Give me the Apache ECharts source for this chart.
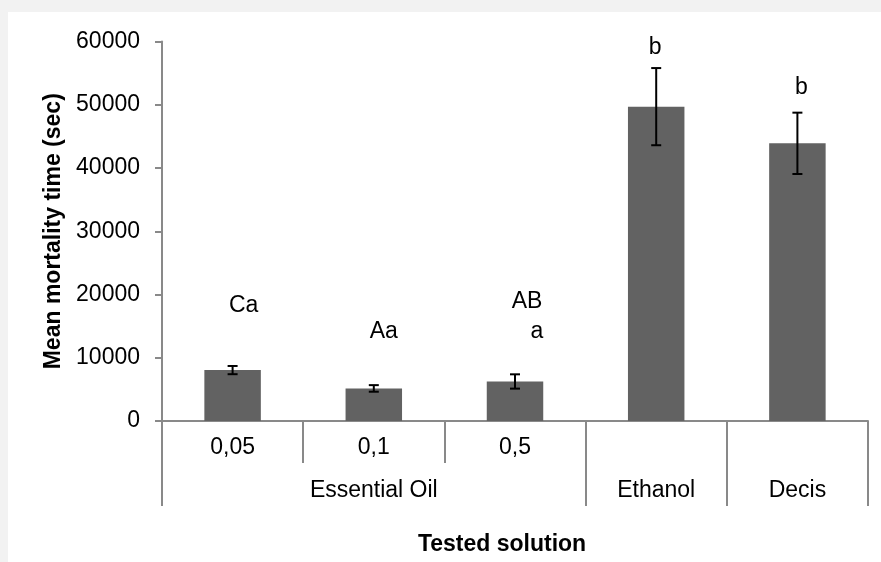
<!DOCTYPE html>
<html>
<head>
<meta charset="utf-8">
<script src="https://cdn.jsdelivr.net/npm/echarts@6/dist/echarts.min.js"></script>
<style>
  html, body { margin: 0; padding: 0; background: #f2f2f2; }
  #chart { position: absolute; left: 8px; top: 12px; width: 873px; height: 550px; background: #fff; }
</style>
</head>
<body>
<div id="chart"></div>
<script>
// first level of the x axis (concentration), second level (solution group)
const concentrations = ['0,05', '0,1', '0,5', '', ''];
const groups = ['Essential Oil', 'Ethanol', 'Decis'];
const groupSpans = [3, 1, 1];

// mean mortality time (sec) and error bar half-length
const meanTime = [8050, 5150, 6250, 49700, 43900];
const stdError = [650, 520, 1130, 6100, 4850];

// significance letters: text, bar they belong to, height (sec)
const letterText = ['Ca', 'Aa', 'AB', 'a', 'b', 'b'];
const letterBar = [0, 1, 2, 2, 3, 4];
const letterLevel = [18300, 14200, 18900, 14050, 59100, 52700];

const yTicks = [0, 10000, 20000, 30000, 40000, 50000, 60000];

const FONT = "'Liberation Sans', Arial, sans-serif";
const FS = 23;
const AXIS_GREY = '#898989';

// group edges / centres on a 0..n scale
const groupEdges = [0];
const groupCenters = [];
let acc = 0;
groupSpans.forEach(s => {
  groupCenters.push(acc + s / 2);
  acc += s;
  groupEdges.push(acc);
});

// small horizontal nudges for the letters, as in the original
const letterDx = [11, 10, 12, 22, -1, 4];

const chart = echarts.init(document.getElementById('chart'));

const option = {
  animation: false,
  backgroundColor: '#fff',
  textStyle: { fontFamily: FONT },
  grid: { left: 154, right: 13, top: 29.5, bottom: 141, containLabel: false },
  xAxis: [
    {
      type: 'category',
      data: concentrations,
      position: 'bottom',
      axisLine: { lineStyle: { color: AXIS_GREY, width: 2 } },
      axisTick: { show: true, interval: 0, length: 42, alignWithLabel: false, lineStyle: { color: AXIS_GREY, width: 2 } },
      axisLabel: { interval: 0, margin: 15, fontSize: FS, color: '#000', fontFamily: FONT }
    },
    {
      type: 'value',
      min: 0,
      max: concentrations.length,
      position: 'bottom',
      axisLine: { show: false },
      splitLine: { show: false },
      axisTick: { show: true, customValues: groupEdges, length: 85, lineStyle: { color: AXIS_GREY, width: 2 } },
      axisLabel: {
        customValues: groupCenters,
        margin: 58,
        fontSize: FS,
        color: '#000',
        fontFamily: FONT,
        formatter: v => groups[groupCenters.indexOf(v)] || ''
      },
      name: 'Tested solution',
      nameLocation: 'middle',
      nameGap: 112,
      nameTextStyle: { fontSize: FS, fontWeight: 'bold', color: '#000', fontFamily: FONT, padding: [0, 26, 0, 0] }
    }
  ],
  yAxis: {
    type: 'value',
    min: yTicks[0],
    max: yTicks[yTicks.length - 1],
    interval: yTicks[1] - yTicks[0],
    axisLine: { show: true, lineStyle: { color: AXIS_GREY, width: 2 } },
    axisTick: { show: true, length: 7, lineStyle: { color: AXIS_GREY, width: 2 } },
    splitLine: { show: false },
    axisLabel: { margin: 22, fontSize: FS, color: '#000', fontFamily: FONT, formatter: v => String(v) },
    name: 'Mean mortality time (sec)',
    nameLocation: 'middle',
    nameGap: 95,
    nameTextStyle: { fontSize: FS, fontWeight: 'bold', color: '#000', fontFamily: FONT }
  },
  series: [
    {
      type: 'bar',
      xAxisIndex: 0,
      data: meanTime,
      barWidth: '40%',
      itemStyle: { color: '#626262' },
      silent: true
    },
    {
      type: 'custom',
      xAxisIndex: 0,
      silent: true,
      data: meanTime.map((m, i) => [i, m - stdError[i], m + stdError[i]]),
      renderItem: (params, api) => {
        const lo = api.coord([api.value(0), api.value(1)]);
        const hi = api.coord([api.value(0), api.value(2)]);
        const half = 5;
        const style = { stroke: '#000', lineWidth: 2 };
        return {
          type: 'group',
          children: [
            { type: 'line', shape: { x1: hi[0], y1: hi[1], x2: lo[0], y2: lo[1] }, style },
            { type: 'line', shape: { x1: hi[0] - half, y1: hi[1], x2: hi[0] + half, y2: hi[1] }, style },
            { type: 'line', shape: { x1: lo[0] - half, y1: lo[1], x2: lo[0] + half, y2: lo[1] }, style }
          ]
        };
      },
      z: 5
    },
    {
      type: 'custom',
      xAxisIndex: 0,
      silent: true,
      clip: false,
      data: letterText.map((t, i) => [letterBar[i], letterLevel[i], i]),
      renderItem: (params, api) => {
        const idx = api.value(2);
        const p = api.coord([api.value(0), api.value(1)]);
        return {
          type: 'text',
          x: p[0] + letterDx[idx],
          y: p[1],
          style: {
            text: letterText[idx],
            fontSize: FS,
            fontFamily: FONT,
            fill: '#000',
            align: 'center',
            verticalAlign: 'middle'
          }
        };
      },
      z: 6
    }
  ]
};

chart.setOption(option);
window.addEventListener('resize', () => chart.resize());
</script>
</body>
</html>
